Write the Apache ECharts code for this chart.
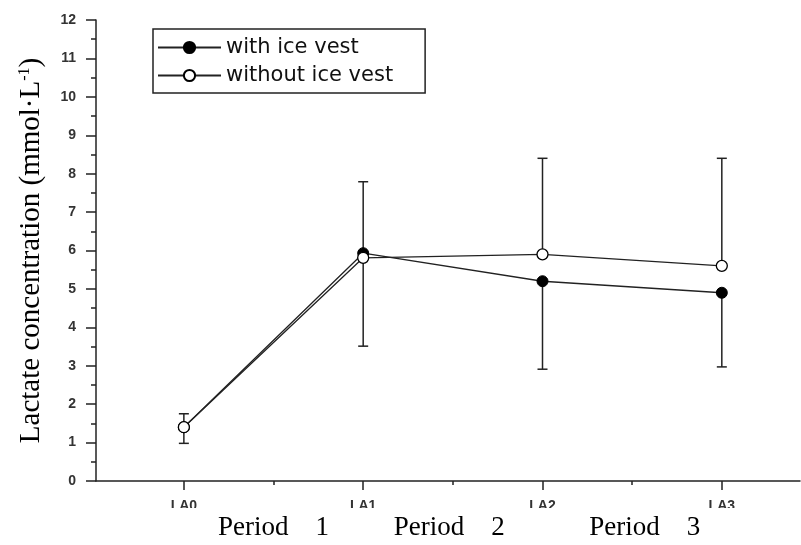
<!DOCTYPE html>
<html>
<head>
<meta charset="utf-8">
<script src="https://cdn.jsdelivr.net/npm/echarts@6/dist/echarts.min.js"></script>
<style>
  html, body { margin: 0; padding: 0; background: #fff; }
  #chart { width: 801px; height: 545px; }
</style>
</head>
<body>
<div id="chart"></div>
<script>
// sampling points
var categories = ['LA0', 'LA1', 'LA2', 'LA3'];
// mean lactate (mmol/L)
var withVest = [1.4, 5.93, 5.2, 4.9];
var withoutVest = [1.4, 5.81, 5.9, 5.6];
// error bar ends: upper for "without", lower for "with"
var withoutUpper = [1.75, 7.79, 8.4, 8.4];
var withLower = [0.98, 3.51, 2.91, 2.97];
// period captions under the axis
var periodLabels = ['Period    1', 'Period    2', 'Period    3'];
var periodPos = [0.5, 1.48, 2.57];

var ink = '#222';
var catIdx = categories.map(function (c, i) { return i; });

function pairs(vals) {
  return vals.map(function (v, i) { return [i, v]; });
}
function bars(vals, ends) {
  return vals.map(function (v, i) { return [i, v, ends[i]]; });
}

// vertical bar with a cap at the far end
function renderBar(params, api) {
  var p0 = api.coord([api.value(0), api.value(1)]);
  var p1 = api.coord([api.value(0), api.value(2)]);
  var st = { stroke: ink, lineWidth: 1.5 };
  return {
    type: 'group',
    children: [
      { type: 'line', shape: { x1: p0[0], y1: p0[1], x2: p1[0], y2: p1[1] }, style: st },
      { type: 'line', shape: { x1: p1[0] - 5, y1: p1[1], x2: p1[0] + 5, y2: p1[1] }, style: st }
    ]
  };
}

var chart = echarts.init(document.getElementById('chart'));
var option = {
  backgroundColor: '#fff',
  animation: false,
  grid: { left: 96, right: 1, top: 20, bottom: 64 },
  legend: {
    orient: 'vertical',
    left: 153,
    top: 29,
    padding: [8, 32, 7, 4],
    itemGap: 7,
    itemWidth: 63,
    itemHeight: 14,
    borderColor: ink,
    borderWidth: 1.5,
    textStyle: { fontFamily: 'DejaVu Sans', fontSize: 21, lineHeight: 21, color: '#111' },
    data: ['with ice vest', 'without ice vest']
  },
  xAxis: [
    {
      type: 'value',
      min: -0.49,
      max: 3.436,
      splitLine: { show: false },
      axisLine: { lineStyle: { color: ink, width: 1.5 } },
      axisTick: { customValues: catIdx, length: 9, lineStyle: { color: ink, width: 1.5 } },
      axisLabel: {
        customValues: catIdx,
        margin: 18,
        fontFamily: 'Liberation Sans',
        fontSize: 14,
        fontWeight: 'bold',
        color: '#333',
        formatter: function (v) { return categories[Math.round(v)]; }
      }
    },
    {
      type: 'value',
      position: 'bottom',
      min: -0.49,
      max: 3.436,
      z: 60,
      splitLine: { show: false },
      axisLine: { show: false },
      axisTick: { customValues: [0.5, 1.5, 2.5], length: 4, lineStyle: { color: ink, width: 1.5 } },
      axisLabel: {
        customValues: periodPos,
        margin: 33,
        fontFamily: 'Liberation Serif',
        fontSize: 27,
        color: '#000',
        formatter: function (v) { return periodLabels[periodPos.indexOf(v)]; }
      }
    }
  ],
  yAxis: {
    type: 'value',
    min: 0,
    max: 12,
    interval: 1,
    name: 'Lactate concentration (mmol·L{sup|-1})',
    nameLocation: 'middle',
    nameGap: 50,
    nameTextStyle: {
      fontFamily: 'Liberation Serif',
      fontSize: 29,
      color: '#000',
      rich: {
        sup: { fontFamily: 'Liberation Serif', fontSize: 16, verticalAlign: 'top', color: '#000' }
      }
    },
    splitLine: { show: false },
    axisLine: { show: true, onZero: false, lineStyle: { color: ink, width: 1.5 } },
    axisTick: { show: true, length: 10, lineStyle: { color: ink, width: 1.5 } },
    minorTick: { show: true, splitNumber: 2, length: 5, lineStyle: { color: ink, width: 1.5 } },
    axisLabel: {
      margin: 20,
      fontFamily: 'Liberation Sans',
      fontSize: 14,
      fontWeight: 'bold',
      color: '#333'
    }
  },
  graphic: [
    // white strip that cuts the tick labels like in the source figure
    { type: 'rect', left: 0, top: 508, z: 50, shape: { width: 801, height: 37 }, style: { fill: '#fff' } }
  ],
  series: [
    {
      type: 'custom',
      name: 'lowerBars',
      renderItem: renderBar,
      data: bars(withVest, withLower),
      z: 1
    },
    {
      type: 'custom',
      name: 'upperBars',
      renderItem: renderBar,
      data: bars(withoutVest, withoutUpper),
      z: 1
    },
    {
      name: 'with ice vest',
      type: 'line',
      data: pairs(withVest),
      symbol: 'circle',
      symbolSize: 11,
      lineStyle: { color: ink, width: 1.3 },
      itemStyle: { color: '#000', borderColor: '#000', borderWidth: 1 },
      z: 3
    },
    {
      name: 'without ice vest',
      type: 'line',
      data: pairs(withoutVest),
      symbol: 'circle',
      symbolSize: 11,
      lineStyle: { color: ink, width: 1.3 },
      itemStyle: { color: '#fff', borderColor: '#000', borderWidth: 1.3 },
      z: 4
    }
  ]
};
chart.setOption(option);
</script>
</body>
</html>
